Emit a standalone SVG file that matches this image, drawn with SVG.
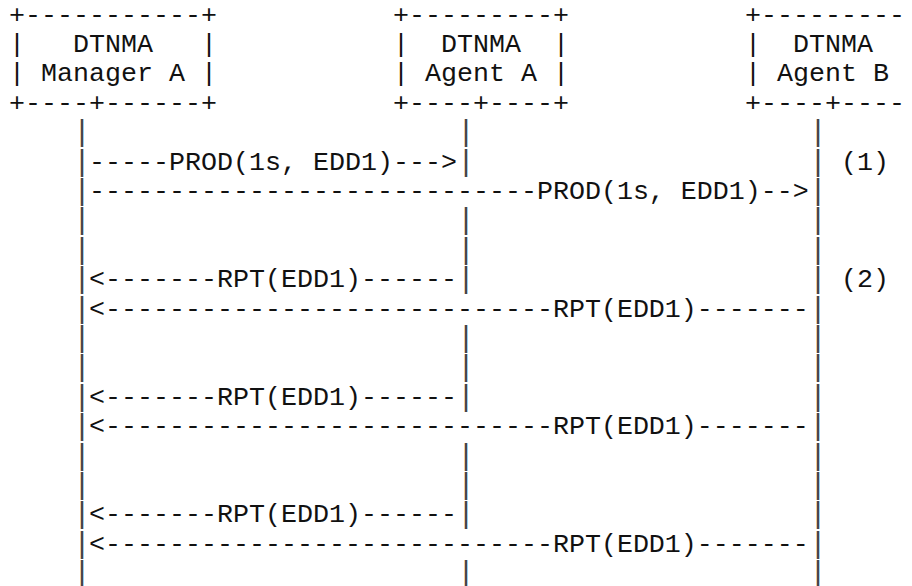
<svg xmlns="http://www.w3.org/2000/svg" width="912" height="586" viewBox="0 0 912 586">
<style>
text { font-family: "Liberation Mono", "Courier New", monospace; font-size: 26.667px; fill: #111; white-space: pre; }
.life { font-size: 30px; fill: #444; }
</style>
<rect width="912" height="586" fill="#fff"/>
<g id="manager-a" xml:space="preserve">
<text x="9" y="22.6">+-----------+</text>
<text x="9" y="52">|   DTNMA   |</text>
<text x="9" y="81.4">| Manager A |</text>
<text x="9" y="110.8">+----+------+</text>
</g>
<g id="agent-a" xml:space="preserve">
<text x="393" y="22.6">+---------+</text>
<text x="393" y="52">|  DTNMA  |</text>
<text x="393" y="81.4">| Agent A |</text>
<text x="393" y="110.8">+----+----+</text>
</g>
<g id="agent-b" xml:space="preserve">
<text x="745" y="22.6">+---------</text>
<text x="745" y="52">|  DTNMA</text>
<text x="745" y="81.4">| Agent B</text>
<text x="745" y="110.8">+----+----</text>
</g>
<g id="lifelines">
<text class="life"><tspan x="73" y="141.2">|</tspan><tspan x="73" y="170.6">|</tspan><tspan x="73" y="200">|</tspan><tspan x="73" y="229.4">|</tspan><tspan x="73" y="258.8">|</tspan><tspan x="73" y="288.2">|</tspan><tspan x="73" y="317.6">|</tspan><tspan x="73" y="347">|</tspan><tspan x="73" y="376.4">|</tspan><tspan x="73" y="405.8">|</tspan><tspan x="73" y="435.2">|</tspan><tspan x="73" y="464.6">|</tspan><tspan x="73" y="494">|</tspan><tspan x="73" y="523.4">|</tspan><tspan x="73" y="552.8">|</tspan><tspan x="73" y="582.2">|</tspan></text>
<text class="life"><tspan x="457" y="141.2">|</tspan><tspan x="457" y="170.6">|</tspan><tspan x="457" y="229.4">|</tspan><tspan x="457" y="258.8">|</tspan><tspan x="457" y="288.2">|</tspan><tspan x="457" y="347">|</tspan><tspan x="457" y="376.4">|</tspan><tspan x="457" y="405.8">|</tspan><tspan x="457" y="464.6">|</tspan><tspan x="457" y="494">|</tspan><tspan x="457" y="523.4">|</tspan><tspan x="457" y="582.2">|</tspan></text>
<text class="life"><tspan x="809" y="141.2">|</tspan><tspan x="809" y="170.6">|</tspan><tspan x="809" y="200">|</tspan><tspan x="809" y="229.4">|</tspan><tspan x="809" y="258.8">|</tspan><tspan x="809" y="288.2">|</tspan><tspan x="809" y="317.6">|</tspan><tspan x="809" y="347">|</tspan><tspan x="809" y="376.4">|</tspan><tspan x="809" y="405.8">|</tspan><tspan x="809" y="435.2">|</tspan><tspan x="809" y="464.6">|</tspan><tspan x="809" y="494">|</tspan><tspan x="809" y="523.4">|</tspan><tspan x="809" y="552.8">|</tspan><tspan x="809" y="582.2">|</tspan></text>
</g>
<g id="connectors" xml:space="preserve">
<text x="89" y="169.6">-----PROD(1s, EDD1)---&gt;</text>
<text x="89" y="199">----------------------------PROD(1s, EDD1)--&gt;</text>
<text x="89" y="287.2">&lt;-------RPT(EDD1)------</text>
<text x="89" y="316.6">&lt;----------------------------RPT(EDD1)-------</text>
<text x="89" y="404.8">&lt;-------RPT(EDD1)------</text>
<text x="89" y="434.2">&lt;----------------------------RPT(EDD1)-------</text>
<text x="89" y="522.4">&lt;-------RPT(EDD1)------</text>
<text x="89" y="551.8">&lt;----------------------------RPT(EDD1)-------</text>
</g>
<g id="notes">
<text x="841" y="169.6">(1)</text>
<text x="841" y="287.2">(2)</text>
</g>
</svg>
